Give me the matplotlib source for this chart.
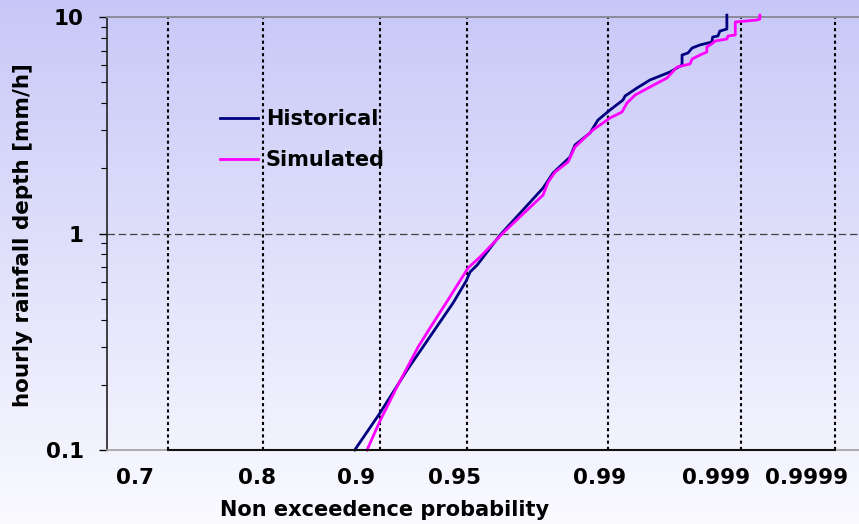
import numpy as np
import matplotlib
matplotlib.use('Agg')
import matplotlib.pyplot as plt
from matplotlib.colors import LinearSegmentedColormap
from matplotlib.transforms import offset_copy
from matplotlib.ticker import LogLocator, NullFormatter, NullLocator

# non exceedence curves of hourly rainfall (probability, mm/h)
hist_p = [0.881, 0.8996, 0.9177, 0.9435, 0.9497, 0.9515, 0.9546, 0.9637, 0.9772,
          0.9797, 0.9835, 0.9845, 0.98725, 0.98855, 0.99031, 0.99197, 0.99221,
          0.99349, 0.99469, 0.99618, 0.99690, 0.99690, 0.99721, 0.99741, 0.99776,
          0.99821, 0.99824, 0.99841, 0.99847, 0.99867, 0.99867]
hist_mm = [0.100, 0.148, 0.234, 0.478, 0.603, 0.664, 0.715, 0.984, 1.623,
           1.903, 2.256, 2.563, 2.912, 3.343, 3.719, 4.136, 4.316,
           4.700, 5.117, 5.572, 6.002, 6.675, 6.82, 7.19, 7.43,
           7.66, 8.08, 8.17, 8.61, 8.80, 10.2]

sim_p = [0.8903, 0.8996, 0.9119, 0.9244, 0.9313, 0.9409, 0.9506, 0.9558, 0.9655,
         0.9772, 0.9785, 0.9802, 0.9831, 0.9845, 0.98775, 0.99031, 0.99185,
         0.99243, 0.99330, 0.99469, 0.99598, 0.99662, 0.99731, 0.99741, 0.99776,
         0.99803, 0.99803, 0.99825, 0.99832, 0.99867, 0.99870, 0.99888, 0.99888,
         0.99930, 0.99934, 0.99934]
sim_mm = [0.100, 0.136, 0.200, 0.299, 0.366, 0.493, 0.693, 0.779, 1.027,
          1.506, 1.729, 1.923, 2.140, 2.508, 3.007, 3.416, 3.641,
          4.007, 4.362, 4.750, 5.227, 5.876, 6.066, 6.397, 6.675,
          6.893, 7.268, 7.585, 7.747, 7.914, 8.17, 8.258, 9.48,
          9.69, 9.79, 10.2]

grid_p = [0.7, 0.8, 0.9, 0.95, 0.99, 0.999, 0.9999]
tick_text = ['0.7', '0.8', '0.9', '0.95', '0.99', '0.999', '0.9999']
# in the original the probability labels sit a bit left of their grid lines (pixels)
label_shift = [-33, -6, -24, -12, -8, -25, -28]
y_ticks = [0.1, 1, 10]
y_tick_text = ['0.1', '1', '10']


# Weibull type probability paper: log10(-ln(1-p))
def fwd(p):
    p = np.clip(np.asarray(p, float), 1e-9, 1 - 1e-12)
    return np.log10(-np.log(1 - p))


def inv(u):
    return 1 - np.exp(-10 ** np.asarray(u, float))


plt.rcParams['font.family'] = ['DejaVu Sans']
plt.rcParams['font.weight'] = 'bold'

fig = plt.figure(figsize=(8.59, 5.24), dpi=100)

# lavender to white background
bg = fig.add_axes([0, 0, 1, 1], zorder=-10)
bg.axis('off')
cmap = LinearSegmentedColormap.from_list('bg', ['#c8c8f8', '#fafaff'])
bg.imshow(np.linspace(0, 1, 256)[:, None], aspect='auto', cmap=cmap,
          extent=[0, 1, 0, 1], origin='upper')

ax = fig.add_axes([107 / 859, 74 / 524, 755 / 859, 433 / 524])
ax.patch.set_alpha(0)
ax.set_xscale('function', functions=(fwd, inv))
ax.set_yscale('log')
ax.set_xlim(inv(0), inv(1))
ax.set_ylim(0.1, 10)

for p in grid_p:
    ax.axvline(p, color='black', lw=1.5, ls=(0, (1.5, 1.5)), zorder=1)
ax.axhline(1, color='#404040', lw=0.9, ls=(0, (6, 3)), zorder=1)

ax.plot(hist_p, hist_mm, color='#000080', lw=2.0, label='Historical', zorder=3, clip_on=False)
ax.plot(sim_p, sim_mm, color='#ff00ff', lw=2.0, label='Simulated', zorder=4, clip_on=False)

ax.spines['right'].set_visible(False)
ax.spines['top'].set_color('#8c8c9c')
ax.spines['top'].set_linewidth(1.4)
ax.spines['left'].set_color('#222222')
ax.spines['left'].set_linewidth(1.2)
ax.spines['bottom'].set_color('#a0a0a0')
ax.spines['bottom'].set_linewidth(1.2)
ax.plot([grid_p[0], grid_p[-1]], [0.1, 0.1], color='#111111', lw=1.5, clip_on=False, zorder=5)

ax.set_xticks([])
ax.xaxis.set_minor_locator(NullLocator())
ax.set_yticks(y_ticks, y_tick_text)
ax.yaxis.set_minor_locator(LogLocator(subs=range(2, 10)))
ax.yaxis.set_minor_formatter(NullFormatter())
ax.tick_params(axis='y', which='major', direction='out', length=5.8, width=1, pad=11, labelsize=15.5)
ax.tick_params(axis='y', which='minor', direction='out', length=4.5, width=0.8)

for p, t, dx in zip(grid_p, tick_text, label_shift):
    tr = offset_copy(ax.get_xaxis_transform(), fig=fig, x=dx, y=-28, units='dots')
    ax.text(p, 0, t, transform=tr, ha='center', va='center', fontsize=15.5, fontweight='bold')

fig.text(385 / 859, 1 - 510 / 524, 'Non exceedence probability', ha='center', va='center',
         fontsize=15, fontweight='bold')
fig.text(23 / 859, 1 - 235 / 524, 'hourly rainfall depth [mm/h]', rotation=90,
         ha='center', va='center', fontsize=15.5, fontweight='bold')

ax.legend(loc='upper left', bbox_to_anchor=(220 / 859, 1 - 109 / 524), bbox_transform=fig.transFigure,
          frameon=False, borderpad=0, borderaxespad=0, handlelength=1.8, handletextpad=0.4,
          labelspacing=1.0, prop={'weight': 'bold', 'size': 15})

fig.savefig('out.png', dpi=100)
